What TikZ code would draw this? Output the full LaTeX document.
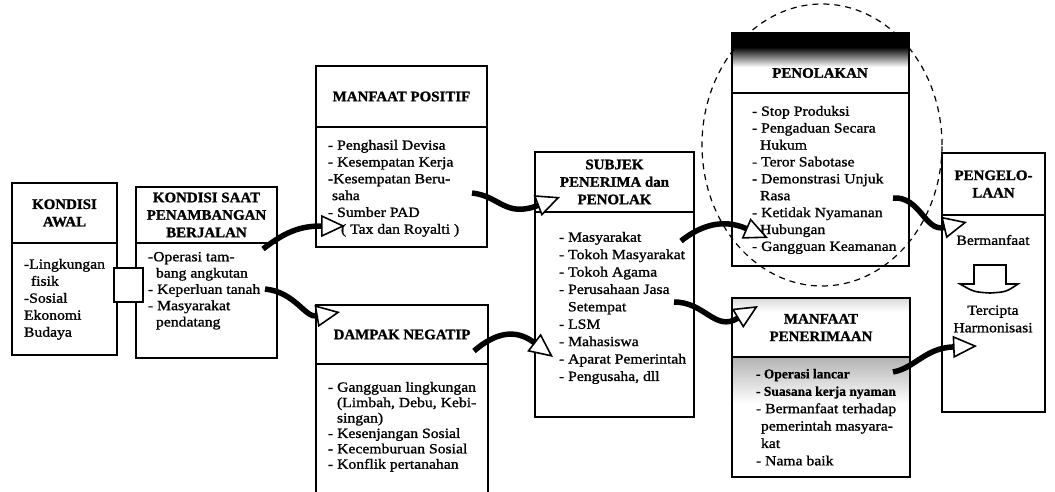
\documentclass[tikz,border=0pt]{standalone}
\usepackage{fontspec}
\setmainfont{Liberation Serif}
\newfontfamily\txtfont{Liberation Serif}[FakeStretch=1.12,FakeBold=1.2]
\newfontfamily\hdfont{Liberation Serif}[FakeStretch=1.03,FakeBold=1.2]
\newfontfamily\plainbold{Liberation Serif}[FakeBold=0.8]
\usetikzlibrary{arrows.meta,calc}
\newcommand\bodyat[1]{\txtfont\fontsize{14}{#1}\selectfont}
\newcommand\boldline[1]{{\plainbold\bfseries\fontsize{13.5}{17.4}\selectfont #1}}

\tikzset{
  frame/.style={draw=black, line width=1.6pt, fill=white, anchor=north west, inner sep=0pt, outer sep=0pt},
  headtext/.style={font=\hdfont\bfseries\fontsize{14.5}{17.5}\selectfont, align=center},
  bodytext/.style={align=left, anchor=north west, inner sep=0pt, outer sep=0pt},
  bendarrow/.style={line width=5.5pt, -{Triangle[length=24pt, width=22pt, line width=1.6pt, fill=white]}},
  ring/.style={dash pattern=on 6pt off 5pt, line width=1.2pt},
}

\begin{document}
\begin{tikzpicture}[x=1pt, y=-1pt]
\useasboundingbox (0,0) rectangle (1055,492);
\clip (0,0) rectangle (1055,492);
\fill[white] (0,0) rectangle (1055,492);

% --- KONDISI AWAL
\node[frame, headtext, minimum width=105pt, minimum height=60pt] (awalH) at (12,183) {KONDISI\\AWAL};
\node[frame, minimum width=105pt, minimum height=112pt] (awalB) at (awalH.south west) {};
\node[bodytext, font=\bodyat{17}] (awalL) at (24,259) {-Lingkungan\\\hspace*{7pt}fisik\\-Sosial\\Ekonomi\\Budaya};

% --- KONDISI SAAT PENAMBANGAN BERJALAN
\node[frame, headtext, minimum width=141pt, minimum height=56pt] (saatH) at (136,187) {KONDISI SAAT\\PENAMBANGAN\\BERJALAN};
\node[frame, minimum width=141pt, minimum height=115pt] (saatB) at (saatH.south west) {};
\node[bodytext, font=\bodyat{16.3}] (saatL) at (148,252) {-Operasi tam-\\\hspace*{8pt}bang angkutan\\- Keperluan tanah\\- Masyarakat\\\hspace*{8pt}pendatang};

% joining block between the first two boxes
\node[frame, minimum width=29pt, minimum height=34pt] (link) at (114,268) {};

% --- MANFAAT POSITIF
\node[frame, headtext, minimum width=171pt, minimum height=61pt] (posH) at (316,66) {MANFAAT POSITIF};
\node[frame, minimum width=171pt, minimum height=120pt] (posB) at (posH.south west) {};
\node[bodytext, font=\bodyat{16.8}] (posL) at (328,140) {- Penghasil Devisa\\- Kesempatan Kerja\\-Kesempatan Beru-\\\hspace*{4pt}saha\\- Sumber PAD\\\hspace*{13pt}( Tax dan Royalti )};

% --- DAMPAK NEGATIP
\node[frame, headtext, minimum width=172pt, minimum height=59pt] (negH) at (316,305) {DAMPAK NEGATIP};
\node[frame, minimum width=172pt, minimum height=150pt] (negB) at (negH.south west) {};
\node[bodytext, font=\bodyat{15.4}] (negL) at (328,382) {- Gangguan lingkungan\\\hspace*{9pt}(Limbah, Debu, Kebi-\\\hspace*{9pt}singan)\\- Kesenjangan Sosial\\- Kecemburuan Sosial\\- Konflik pertanahan};

% --- SUBJEK PENERIMA dan PENOLAK
\node[frame, headtext, minimum width=159pt, minimum height=60pt] (subH) at (535,152) {SUBJEK\\PENERIMA dan\\PENOLAK};
\node[frame, minimum width=159pt, minimum height=205pt] (subB) at (subH.south west) {};
\node[bodytext, font=\bodyat{17.4}] (subL) at (559,232) {- Masyarakat\\- Tokoh Masyarakat\\- Tokoh Agama\\- Perusahaan Jasa\\\hspace*{9pt}Setempat\\- LSM\\- Mahasiswa\\- Aparat Pemerintah\\- Pengusaha, dll};

% --- PENOLAKAN (dark band across the top of its header)
\fill[black] (732,33) rectangle (909,47);
\shade[top color=black, bottom color=white] (732,47) rectangle (909,67);
\node[frame, fill=none, minimum width=177pt, minimum height=60pt] (tolH) at (732,33) {};
\node[headtext] (tolT) at (820,73) {PENOLAKAN};
\node[frame, minimum width=177pt, minimum height=173pt] (tolB) at (tolH.south west) {};
\node[bodytext, font=\bodyat{16.9}] (tolL) at (752,106) {- Stop Produksi\\- Pengaduan Secara\\\hspace*{8pt}Hukum\\- Teror Sabotase\\- Demonstrasi Unjuk\\\hspace*{8pt}Rasa\\- Ketidak Nyamanan\\\hspace*{8pt}Hubungan\\- Gangguan Keamanan};

% --- MANFAAT PENERIMAAN (grey tint at top of header and body)
\fill[white] (732,298) rectangle (910,477);
\shade[top color=gray!30, bottom color=white] (732,298) rectangle (910,312);
\shade[top color=gray!60, bottom color=white] (732,357) rectangle (910,404);
\node[frame, fill=none, headtext, minimum width=178pt, minimum height=59pt] (terH) at (732,298) {MANFAAT\\PENERIMAAN};
\node[frame, fill=none, minimum width=178pt, minimum height=120pt] (terB) at (terH.south west) {};
\node[bodytext, font=\bodyat{17.4}] (terL) at (756,369) {\boldline{- Operasi lancar}\\\boldline{- Suasana kerja nyaman}\\- Bermanfaat terhadap\\\hspace*{5pt}pemerintah masyara-\\\hspace*{5pt}kat\\- Nama baik};

% --- PENGELOLAAN
\node[frame, headtext, minimum width=103pt, minimum height=62pt] (kelH) at (942,153) {PENGELO-\\LAAN};
\node[frame, minimum width=103pt, minimum height=197pt] (kelB) at (kelH.south west) {};
\node[font=\bodyat{17}, inner sep=0pt] (kelA) at (993,240) {Bermanfaat};
\draw[line width=1.6pt, fill=white] (974,265) -- (1006,265) -- (1006,284) -- (1018,284)
  .. controls (1006,292) .. (990,293) .. controls (974,292) .. (960,284) -- (974,284) -- cycle;
\node[font=\bodyat{17.5}, align=center, inner sep=0pt] (kelC) at (993,319) {Tercipta\\Harmonisasi};

% dashed ring round the rejection box
\draw[ring] (822,145) ellipse [x radius=120pt, y radius=141pt];

% curved block arrows
\draw[bendarrow] ($(saatH.south east)+(-14,6)$) .. controls (285,232) and (300,226) .. ($(posB.south west)+(29,-21)$);
\draw[bendarrow] ($(saatB.north east)+(-12,46)$) .. controls (295,292) and (305,318) .. ($(negH.north west)+(24,7)$);
\draw[bendarrow] ($(posB.north east)+(-15,66)$) .. controls (500,196) and (505,218) .. ($(subH.south west)+(25,-15)$);
\draw[bendarrow] ($(negB.north east)+(-14,-13)$) .. controls (495,333) and (515,328) .. ($(subB.south west)+(18,-60)$);
\draw[bendarrow] ($(subB.north east)+(-13,29)$) .. controls (700,226) and (722,218) .. ($(tolB.south west)+(36,-28)$);
\draw[bendarrow] ($(subB.north east)+(-20,90)$) .. controls (705,302) and (715,332) .. ($(terH.north west)+(26,8)$);
\draw[bendarrow] ($(tolB.north east)+(-16,105)$) .. controls (920,196) and (925,232) .. ($(kelB.north west)+(25,7)$);
\draw[bendarrow] ($(terB.north east)+(-17,15)$) .. controls (915,368) and (925,348) .. ($(kelB.north west)+(35,131)$);
\end{tikzpicture}
\end{document}
